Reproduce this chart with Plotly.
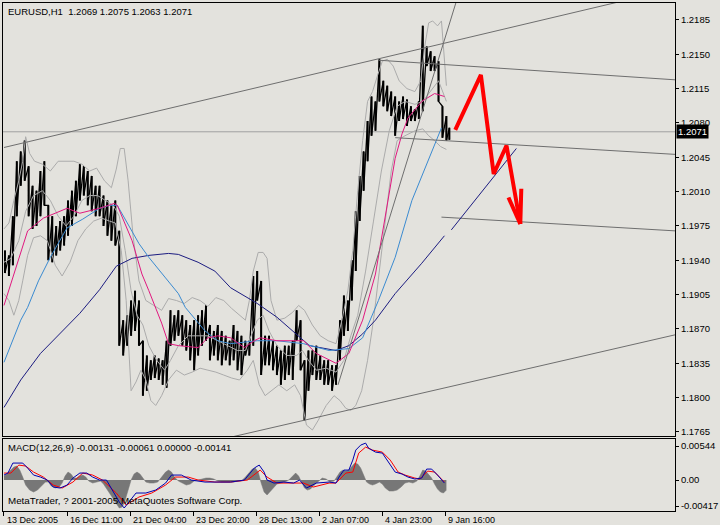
import plotly.graph_objects as go

BG = '#E3E2DD'
FONT = 'Liberation Sans, Arial, sans-serif'

# ---------------- price data (H1 bars, sampled) ----------------
bar_x = [4, 8, 12, 16, 20, 24, 28, 32, 36, 40, 44, 48, 52, 56, 60, 64, 68, 72, 76, 80,
         84, 88, 92, 96, 100, 104, 108, 112, 116, 120, 124, 128, 132, 136, 140, 144, 148, 152, 156, 160,
         164, 168, 172, 176, 180, 184, 188, 192, 196, 200, 204, 208, 212, 216, 220, 224, 228, 232, 236, 240,
         244, 248, 252, 256, 260, 264, 268, 272, 276, 280, 284, 288, 292, 296, 300, 304, 308, 312, 316, 320,
         324, 328, 332, 336, 340, 344, 348, 352, 356, 360, 364, 368, 372, 376, 380, 384, 388, 392, 396, 400,
         404, 408, 412, 416, 420, 424, 428, 432, 436, 440, 444, 448, 452, 455]
bar_high = [1.1950, 1.1945, 1.1985, 1.2041, 1.2051, 1.2062, 1.2036, 1.2016, 1.2011, 1.2031,
            1.2041, 1.1996, 1.1985, 1.1975, 1.1980, 1.1985, 1.2001, 1.2011, 1.2021, 1.2038,
            1.2036, 1.2031, 1.2026, 1.2016, 1.2016, 1.2006, 1.2001, 1.1996, 1.2001, 1.1970,
            1.1879, 1.1884, 1.1899, 1.1909, 1.1899, 1.1858, 1.1843, 1.1838, 1.1843, 1.1840,
            1.1838, 1.1858, 1.1889, 1.1884, 1.1889, 1.1884, 1.1879, 1.1874, 1.1879, 1.1884,
            1.1889, 1.1894, 1.1874, 1.1868, 1.1874, 1.1868, 1.1863, 1.1858, 1.1874, 1.1868,
            1.1863, 1.1858, 1.1858, 1.1924, 1.1929, 1.1919, 1.1863, 1.1863, 1.1858, 1.1853,
            1.1848, 1.1853, 1.1853, 1.1858, 1.1889, 1.1879, 1.1838, 1.1848, 1.1848, 1.1853,
            1.1843, 1.1838, 1.1838, 1.1833, 1.1833, 1.1879, 1.1904, 1.1899, 1.1940, 1.1990,
            1.2026, 1.2051, 1.2082, 1.2107, 1.2102, 1.2145, 1.2123, 1.2118, 1.2112, 1.2107,
            1.2102, 1.2107, 1.2104, 1.2097, 1.2094, 1.2102, 1.2179, 1.2158, 1.2153, 1.2148,
            1.2143, 1.2097, 1.2087, 1.2075]
bar_low = [1.1927, 1.1924, 1.1935, 1.1985, 1.2016, 1.2021, 1.1985, 1.1972, 1.1975, 1.1985,
           1.1996, 1.1940, 1.1938, 1.1945, 1.1950, 1.1955, 1.1965, 1.1975, 1.1985, 1.2001,
           1.2006, 1.1996, 1.1990, 1.1985, 1.1985, 1.1975, 1.1965, 1.1960, 1.1955, 1.1853,
           1.1843, 1.1853, 1.1863, 1.1868, 1.1853, 1.1802, 1.1807, 1.1818, 1.1820, 1.1818,
           1.1813, 1.1810, 1.1853, 1.1858, 1.1863, 1.1853, 1.1848, 1.1838, 1.1828, 1.1843,
           1.1853, 1.1858, 1.1838, 1.1843, 1.1838, 1.1833, 1.1838, 1.1833, 1.1838, 1.1828,
           1.1823, 1.1843, 1.1843, 1.1853, 1.1899, 1.1823, 1.1833, 1.1833, 1.1828, 1.1823,
           1.1813, 1.1818, 1.1823, 1.1818, 1.1858, 1.1828, 1.1777, 1.1807, 1.1823, 1.1818,
           1.1818, 1.1813, 1.1813, 1.1807, 1.1813, 1.1838, 1.1863, 1.1868, 1.1899, 1.1929,
           1.1980, 1.2011, 1.2041, 1.2067, 1.2072, 1.2102, 1.2097, 1.2092, 1.2087, 1.2067,
           1.2082, 1.2084, 1.2077, 1.2082, 1.2082, 1.2084, 1.2092, 1.2138, 1.2133, 1.2133,
           1.2102, 1.2065, 1.2062, 1.2063]
last_close = 1.2071

# ---------------- moving averages ----------------
ma_fast_x = [3, 27, 43, 67, 80, 100, 115, 118, 133, 143, 150, 157, 163, 170, 180, 200, 210, 220, 233, 247,
             257, 263, 280, 300, 307, 320, 340, 353, 367, 380, 393, 400, 407, 413, 427, 440, 450]
ma_fast = [1.1894, 1.1970, 1.1983, 1.1993, 1.1988, 1.1993, 1.1998, 1.1996, 1.1960, 1.1926,
           1.1909, 1.1892, 1.1876, 1.1855, 1.1853, 1.1851, 1.1861, 1.1863, 1.1861, 1.1851,
           1.1858, 1.1861, 1.1858, 1.1858, 1.1858, 1.1845, 1.1835, 1.1845, 1.1879, 1.1926,
           1.2001, 1.2044, 1.2069, 1.2085, 1.2102, 1.2110, 1.2107]

ma_mid_x = [3, 13, 20, 27, 33, 38, 50, 67, 83, 100, 110, 118, 140, 150, 167, 180, 187, 207, 220, 233,
            260, 280, 307, 333, 353, 367, 383, 400, 417, 433, 447]
ma_mid = [1.1836, 1.1861, 1.1879, 1.1892, 1.1906, 1.1919, 1.1943, 1.1973, 1.1982, 1.1993,
          1.1996, 1.1996, 1.1957, 1.1943, 1.1922, 1.1906, 1.1892, 1.1868, 1.1858, 1.1855,
          1.1858, 1.1858, 1.1855, 1.1848, 1.1850, 1.1861, 1.1899, 1.1943, 1.2001, 1.2041, 1.2075]

ma_slow_x = [3, 20, 40, 60, 80, 100, 117, 133, 150, 170, 180, 200, 217, 233, 260, 280, 300, 313, 340, 353,
             367, 380, 400, 427, 450]
ma_slow = [1.1790, 1.1818, 1.1845, 1.1865, 1.1886, 1.1910, 1.1934, 1.1942, 1.1945, 1.1947,
           1.1946, 1.1938, 1.1929, 1.1912, 1.1896, 1.1882, 1.1864, 1.1853, 1.1848, 1.1853,
           1.1865, 1.1879, 1.1906, 1.1937, 1.1965]

# ---------------- Bollinger bands ----------------
bb_up_x = [3, 8, 13, 18, 22, 25, 29, 34, 42, 50, 58, 66, 74, 82, 90, 97, 105, 112, 117, 121,
           125, 129, 134, 140, 147, 155, 163, 170, 178, 186, 194, 202, 210, 218, 226, 234, 242, 248, 252, 256,
           261, 266, 270, 274, 280, 288, 296, 302, 308, 316, 324, 332, 340, 346, 352, 357, 362, 367, 372, 377,
           382, 387, 392, 398, 404, 412, 420, 426, 430, 434, 438, 443, 447, 452]
bb_up = [1.1972, 1.1978, 1.2001, 1.2021, 1.2041, 1.2066, 1.2049, 1.2041, 1.2038, 1.2031,
         1.2041, 1.2041, 1.2041, 1.2038, 1.2031, 1.2034, 1.2021, 1.2014, 1.2033, 1.2054,
         1.2054, 1.2021, 1.1965, 1.1919, 1.1899, 1.1894, 1.1889, 1.1901, 1.1899, 1.1896,
         1.1902, 1.1899, 1.1893, 1.1902, 1.1899, 1.1891, 1.1884, 1.1879, 1.1899, 1.1929,
         1.1948, 1.1948, 1.1942, 1.1899, 1.1879, 1.1881, 1.1887, 1.1894, 1.1889, 1.1874,
         1.1863, 1.1858, 1.1855, 1.1879, 1.1909, 1.1950, 1.2011, 1.2062, 1.2102, 1.2112,
         1.2128, 1.2143, 1.2145, 1.2138, 1.2123, 1.2115, 1.2112, 1.2123, 1.2158, 1.2182,
         1.2184, 1.2179, 1.2184, 1.2118]

bb_mid_x = [3, 10, 18, 25, 33, 42, 50, 58, 66, 74, 82, 90, 98, 106, 114, 120, 126, 132, 138, 144,
            150, 158, 166, 172, 180, 190, 200, 210, 220, 230, 240, 248, 254, 260, 266, 272, 280, 290, 300, 306,
            312, 320, 330, 340, 348, 355, 362, 370, 378, 386, 394, 402, 410, 420, 428, 436, 444, 452]
bb_mid = [1.1938, 1.1942, 1.1960, 1.1990, 1.2006, 1.2011, 1.2001, 1.1985, 1.1975, 1.1985,
          1.2001, 1.2006, 1.2006, 1.2001, 1.1996, 1.1985, 1.1950, 1.1909, 1.1884, 1.1874,
          1.1853, 1.1838, 1.1828, 1.1838, 1.1853, 1.1863, 1.1863, 1.1863, 1.1858, 1.1853,
          1.1848, 1.1848, 1.1863, 1.1879, 1.1884, 1.1868, 1.1853, 1.1843, 1.1843, 1.1848,
          1.1838, 1.1828, 1.1830, 1.1826, 1.1838, 1.1863, 1.1884, 1.1929, 1.1980, 1.2031,
          1.2072, 1.2097, 1.2102, 1.2099, 1.2102, 1.2112, 1.2123, 1.2102]

bb_lo_x = [3, 8, 13, 18, 22, 27, 33, 40, 47, 55, 62, 70, 78, 86, 94, 102, 110, 116, 122, 127,
           132, 137, 142, 147, 152, 157, 163, 170, 178, 186, 194, 202, 210, 218, 226, 234, 242, 250, 256, 262,
           268, 274, 282, 290, 298, 304, 310, 316, 322, 330, 338, 344, 350, 355, 360, 366, 372, 378, 384, 390,
           396, 402, 410, 420, 428, 434, 440, 446, 452]
bb_lo = [1.1906, 1.1899, 1.1884, 1.1899, 1.1919, 1.1945, 1.1963, 1.1965, 1.1960, 1.1935,
         1.1924, 1.1938, 1.1960, 1.1972, 1.1980, 1.1983, 1.1980, 1.1978, 1.1950, 1.1899,
         1.1807, 1.1816, 1.1828, 1.1818, 1.1797, 1.1792, 1.1802, 1.1818, 1.1828, 1.1823,
         1.1826, 1.1830, 1.1828, 1.1826, 1.1823, 1.1820, 1.1818, 1.1828, 1.1838, 1.1813,
         1.1802, 1.1807, 1.1813, 1.1807, 1.1813, 1.1802, 1.1772, 1.1767, 1.1777, 1.1792,
         1.1802, 1.1797, 1.1789, 1.1787, 1.1792, 1.1807, 1.1838, 1.1879, 1.1929, 1.1980,
         1.2031, 1.2062, 1.2067, 1.2072, 1.2074, 1.2067, 1.2062, 1.2056, 1.2053]

# ---------------- drawn objects ----------------
# (x0, price0, x1, price1)
trend_lines = [
    (3, 1.2055, 684, 1.2217),
    (200, 1.1752, 684, 1.1864),
    (342, 1.1813, 463, 1.2207),
    (383, 1.2144, 684, 1.2124),
    (400, 1.2065, 684, 1.2048),
    (447, 1.1984, 684, 1.1970),
]
blue_line = (457, 1.1971, 523, 1.2054)
forecast_x = [461, 487, 500, 513, 527]
forecast_p = [1.2073, 1.2129, 1.2028, 1.2057, 1.1977]
arrow_barbs = [(515, 1.2004), (528, 1.2013)]

# ---------------- MACD ----------------
macd_x = [3, 7, 12, 17, 22, 27, 33, 40, 47, 53, 60, 67, 73, 80, 87, 93, 100, 107, 113, 120,
          125, 130, 137, 147, 157, 167, 173, 183, 193, 207, 220, 233, 247, 257, 262, 267, 270, 277, 287, 297,
          303, 310, 320, 333, 340, 343, 348, 353, 357, 360, 365, 370, 373, 380, 387, 393, 400, 407, 413, 420,
          427, 432, 437, 443, 447, 450]
macd_main = [0.0008, 0.00112, 0.00272, 0.00272, 0.00272, 0.00192, 0.0008, 0.00048, 0, -0.00112,
             -0.00128, -0.0008, 0.00032, 0.00112, 0.00112, 0.00048, 0, 0, -0.0016, -0.00352,
             -0.00448, -0.00352, -0.00208, -0.00208, -0.0016, -0.00048, 0.0008, 0.0008, 0, -0.00032,
             -0.00032, -0.00032, 0, 0.00192, 0.0024, 0.00128, 0, -0.00048, -0.00032, -0.00048,
             0, -0.00128, -0.00048, -0.00032, -0.00048, 0.00048, 0.0016, 0.0016, 0.0032, 0.0048,
             0.0056, 0.00592, 0.00512, 0.00448, 0.00432, 0.00288, 0.00128, 0.00096, 0.00048, 0.00016,
             0.00032, 0.00176, 0.00176, 0.0008, 0, -0.00048]
sig_x = [3, 10, 18, 25, 33, 43, 53, 62, 73, 83, 93, 103, 117, 127, 140, 153, 167, 177, 190, 200,
         217, 233, 250, 263, 270, 280, 297, 307, 317, 333, 340, 350, 357, 363, 370, 377, 387, 395, 403, 410,
         420, 425, 433, 440, 447, 450]
macd_signal = [0.00112, 0.00112, 0.0024, 0.00224, 0.00128, 0.00048, -0.0008, -0.00128, -0.00032, 0.00112,
               0.0008, 0, -0.00208, -0.004, -0.00272, -0.00208, -0.0008, 0.00048, 0.00048, 0,
               -0.00032, -0.00032, 0, 0.0016, 0.00048, -0.00048, -0.00048, -0.00048, -0.00112, -0.00048,
               -0.00048, 0.00112, 0.00128, 0.00432, 0.00528, 0.0048, 0.00448, 0.0032, 0.00128, 0.0008,
               0.00032, 0.00016, 0.00144, 0.00128, 0.00016, -0.00032]
hist_x = [3, 6, 10, 13, 16, 19, 22, 25, 29, 33, 37, 41, 45, 48, 51, 55, 59, 62, 65, 68,
          71, 74, 77, 80, 83, 86, 89, 93, 97, 101, 104, 108, 112, 116, 120, 123, 126, 129, 132, 135,
          138, 141, 144, 147, 151, 155, 159, 163, 167, 170, 173, 176, 180, 184, 188, 192, 196, 200, 204, 208,
          212, 216, 220, 224, 228, 232, 236, 240, 244, 248, 252, 255, 258, 261, 264, 267, 270, 273, 276, 280,
          284, 288, 292, 296, 299, 302, 305, 308, 311, 314, 318, 322, 326, 330, 334, 338, 341, 344, 347, 350,
          353, 356, 359, 362, 365, 368, 371, 374, 377, 380, 384, 387, 390, 394, 398, 402, 406, 410, 414, 418,
          422, 425, 428, 431, 434, 437, 440, 443, 446, 449, 452]
macd_hist = [0.00064, 0.00096, 0.0016, 0.00208, 0.00224, 0.0016, 0.00048, -0.0008, -0.0016, -0.00192,
             -0.0016, -0.00096, -0.00032, -0.00032, -0.00096, -0.00128, -0.00112, -0.00048, 0.00064, 0.00128,
             0.00096, 0.00032, 0.00032, 0.00064, 0.0008, 0.00048, -0.00016, -0.00048, -0.00032, -0.00016,
             -0.00064, -0.0016, -0.00272, -0.00368, -0.00448, -0.00432, -0.0032, -0.0016, 0, 0.00096,
             0.00128, 0.00096, 0.00032, -0.00032, -0.00048, -0.00048, -0.00032, 0.00048, 0.00128, 0.0016,
             0.00128, 0.00048, -0.00016, -0.00048, -0.0008, -0.00064, -0.00016, 0, 0.00016, 0.00032,
             0.00032, 0.00016, -0.00016, -0.00032, -0.00032, -0.00032, -0.00032, -0.00016, -0.00016, 0.00048,
             0.00128, 0.00176, 0.00192, 0.00128, -0.00048, -0.00192, -0.0024, -0.00192, -0.00128, -0.00064,
             -0.00048, -0.00032, 0, 0.00064, 0.00112, 0.00064, -0.00032, -0.00128, -0.0016, -0.00144,
             -0.0008, -0.00016, 0.00032, 0.00016, -0.00032, -0.00016, 0.00064, 0.00128, 0.0016, 0.00144,
             0.0016, 0.00224, 0.00272, 0.00256, 0.00192, 0.0008, -0.00032, -0.00064, -0.0008, -0.00064,
             -0.00032, -0.00064, -0.00128, -0.00176, -0.00176, -0.0016, -0.00112, -0.00048, -0.00032, -0.00048,
             -0.00016, 0.00064, 0.0016, 0.00144, 0.00096, 0.00032, -0.00064, -0.00144, -0.00192, -0.00208,
             -0.0016]

# ---------------- axes ----------------
time_ticks = [3, 67, 131, 195, 259, 323, 387, 451]
time_labels = ['13 Dec 2005', '16 Dec 11:00', '21 Dec 04:00', '23 Dec 20:00',
               '28 Dec 13:00', '2 Jan 07:00', '4 Jan 23:00', '9 Jan 16:00']
price_ticks = [1.1765, 1.1800, 1.1835, 1.1870, 1.1905, 1.1940, 1.1975, 1.2010,
               1.2045, 1.2080, 1.2115, 1.2150, 1.2185]
macd_ticks = [-0.00417, 0.0, 0.00544]
macd_tick_labels = ['-0.00417', '0.00', '0.00544']

title_text = 'EURUSD,H1&nbsp;&nbsp;1.2069 1.2075 1.2063 1.2071'
macd_text = 'MACD(12,26,9) -0.00131 -0.00061 0.00000 -0.00141'
copyright_text = 'MetaTrader, ? 2001-2005 MetaQuotes Software Corp.'

fig = go.Figure()

# price bars: each sampled high-low range as a vertical stroke, joined as a sawtooth
zx, zy = [], []
for xv, hv, lv in zip(bar_x, bar_high, bar_low):
    zx += [xv, xv]
    zy += [hv, lv]
fig.add_trace(go.Scatter(x=zx, y=zy, mode='lines', line=dict(color='black', width=1.3),
                         hoverinfo='skip'))
vx, vy = [], []
for xv, hv, lv in zip(bar_x, bar_high, bar_low):
    vx += [xv, xv, None]
    vy += [hv, lv, None]
fig.add_trace(go.Scatter(x=vx, y=vy, mode='lines', line=dict(color='black', width=2),
                         hoverinfo='skip'))

# Bollinger bands
for bx, by in [(bb_up_x, bb_up), (bb_mid_x, bb_mid), (bb_lo_x, bb_lo)]:
    fig.add_trace(go.Scatter(x=bx, y=by, mode='lines', line=dict(color='#ABABAB', width=1)))

# moving averages
fig.add_trace(go.Scatter(x=ma_slow_x, y=ma_slow, mode='lines', line=dict(color='#1C1C80', width=1)))
fig.add_trace(go.Scatter(x=ma_mid_x, y=ma_mid, mode='lines', line=dict(color='#3A8AD0', width=1)))
fig.add_trace(go.Scatter(x=ma_fast_x, y=ma_fast, mode='lines', line=dict(color='#E0187F', width=1)))

# trend lines
tx, ty = [], []
for x0, p0, x1, p1 in trend_lines:
    tx += [x0, x1, None]
    ty += [p0, p1, None]
fig.add_trace(go.Scatter(x=tx, y=ty, mode='lines', line=dict(color='#6E6E6E', width=1)))
fig.add_trace(go.Scatter(x=[blue_line[0], blue_line[2]], y=[blue_line[1], blue_line[3]],
                         mode='lines', line=dict(color='#1C1C80', width=1)))

# forecast arrows
fig.add_trace(go.Scatter(x=forecast_x, y=forecast_p, mode='lines',
                         line=dict(color='#FF0000', width=4)))
bx, by = [], []
for (xb, pb) in arrow_barbs:
    bx += [xb, forecast_x[-1], None]
    by += [pb, forecast_p[-1], None]
fig.add_trace(go.Scatter(x=bx, y=by, mode='lines', line=dict(color='#FF0000', width=4)))

# MACD pane
fig.add_trace(go.Scatter(x=hist_x, y=macd_hist, mode='lines', fill='tozeroy',
                         fillcolor='#777777', line=dict(color='#777777', width=0.5),
                         xaxis='x2', yaxis='y2'))
fig.add_trace(go.Scatter(x=sig_x, y=macd_signal, mode='lines', line=dict(color='#FF0000', width=1),
                         xaxis='x2', yaxis='y2'))
fig.add_trace(go.Scatter(x=macd_x, y=macd_main, mode='lines', line=dict(color='#0000B0', width=1),
                         xaxis='x2', yaxis='y2'))

# bid line
fig.add_shape(type='line', xref='x domain', yref='y', x0=0, x1=1, y0=last_close, y1=last_close,
              line=dict(color='#A0A0A0', width=1), layer='below')

axis_common = dict(showgrid=False, zeroline=False, showline=True, mirror=True,
                   linecolor='black', linewidth=1)

fig.update_layout(
    width=720, height=525,
    margin=dict(l=2, r=36, t=2, b=14),
    paper_bgcolor=BG, plot_bgcolor=BG,
    showlegend=False,
    font=dict(family=FONT, size=10, color='black'),
    xaxis=dict(domain=[0, 1], range=[2, 684], anchor='y', showticklabels=False, ticks='',
               **axis_common),
    yaxis=dict(domain=[0.1473, 1], range=[1.17607, 1.22023], side='right', anchor='x',
               tickvals=price_ticks, ticktext=[f'{v:.4f}' for v in price_ticks],
               ticks='outside', ticklen=3, tickcolor='black',
               tickfont=dict(size=9.5, family=FONT, color='black'), **axis_common),
    xaxis2=dict(domain=[0, 1], range=[2, 684], anchor='y2', showticklabels=False,
                tickvals=time_ticks, ticks='outside', ticklen=4, tickcolor='black', **axis_common),
    yaxis2=dict(domain=[0, 0.1415], range=[-0.00496, 0.00656], side='right', anchor='x2',
                tickvals=macd_ticks, ticktext=macd_tick_labels, ticks='outside', ticklen=3,
                tickcolor='black', tickfont=dict(size=9.5, family=FONT, color='black'),
                **axis_common),
)

ann = [
    dict(text=title_text, xref='paper', yref='paper', x=0, y=0.9823, xanchor='left',
         yanchor='middle', xshift=3, showarrow=False, font=dict(size=9.5, family=FONT, color='black')),
    dict(text=macd_text, xref='paper', yref='paper', x=0, y=0.1257, xanchor='left',
         yanchor='middle', xshift=3, showarrow=False, font=dict(size=9.5, family=FONT, color='black')),
    dict(text=copyright_text, xref='paper', yref='paper', x=0, y=0.0216, xanchor='left',
         yanchor='middle', xshift=3, showarrow=False, font=dict(size=9.8, family=FONT, color='black')),
    dict(text=f'{last_close:.4f}', xref='paper', yref='y', x=1, y=last_close, xanchor='left',
         yanchor='middle', xshift=1, showarrow=False, bgcolor='black', borderpad=1,
         font=dict(size=9.5, family=FONT, color='white')),
]
for tv, tl in zip(time_ticks, time_labels):
    ann.append(dict(text=tl, xref='x2', yref='paper', x=tv, y=-0.0177, xanchor='left',
                    yanchor='middle', xshift=1, showarrow=False,
                    font=dict(size=9, family=FONT, color='black')))
fig.update_layout(annotations=ann)

fig.write_html('out.html', config={'displayModeBar': False},
               post_script="document.body.style.margin='0';document.body.style.overflow='hidden';")
